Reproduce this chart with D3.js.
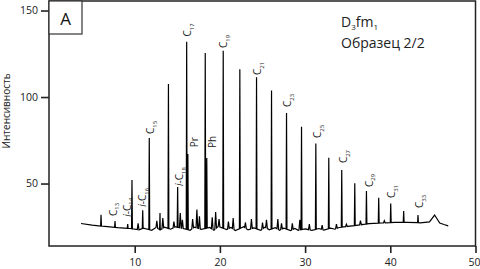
<!DOCTYPE html>
<html><head><meta charset="utf-8">
<script src="https://cdn.jsdelivr.net/npm/d3@7"></script>
<style>
html,body{margin:0;padding:0;background:#fff;}
svg{display:block;font-family:"Open Sans",sans-serif;}
</style></head>
<body>
<svg id="c" width="480" height="269"></svg>
<script>
// Main peaks: retention time (min) and intensity at apex
const peakT = [6.05, 7.69, 9.18, 9.68, 10.94, 11.71, 12.97, 13.96, 15.04, 16.10, 16.24, 18.28, 18.46, 20.39, 22.34, 24.30, 26.06, 27.82, 29.58, 31.26, 32.78, 34.30, 35.83, 37.20, 38.64, 40.05, 41.57, 43.25];
const peakV = [32.0, 28.3, 26.6, 52.0, 34.5, 76.3, 33.0, 107.5, 48.0, 132.0, 67.0, 125.4, 64.7, 126.8, 116.0, 111.5, 103.7, 90.7, 82.8, 73.2, 64.9, 57.8, 50.1, 45.7, 41.8, 38.5, 34.1, 31.8];
// Minor peaks (noise / unresolved components)
const minorT = [10.4, 12.6, 13.3, 14.6, 15.35, 15.6, 16.8, 17.3, 17.6, 19.1, 19.5, 19.9, 21.0, 21.56, 23.0, 23.7, 25.0, 25.47, 26.8, 27.23, 28.5, 29.38, 30.5, 32.0, 33.68, 34.85, 36.5, 39.3];
const minorV = [27.0, 28.5, 30.0, 28.0, 33.0, 29.0, 29.5, 35.0, 31.0, 30.5, 33.5, 29.5, 28.0, 30.0, 27.5, 29.5, 27.5, 29.0, 29.5, 27.0, 27.0, 29.0, 26.5, 26.0, 26.6, 26.5, 28.5, 28.5];
// Baseline (with its small irregularities)
const baseT = [3.7, 5.0, 6.5, 8.0, 9.5, 10.5, 11.0, 12.0, 12.5, 13.0, 13.5, 14.2, 14.8, 15.5, 16.5, 17.0, 17.8, 18.8, 19.3, 19.8, 20.8, 21.3, 21.8, 22.8, 23.3, 24.0, 24.8, 25.3, 25.8, 26.5, 27.0, 27.5, 28.3, 28.8, 29.2, 30.0, 30.8, 31.6, 32.2, 33.0, 33.5, 34.0, 35.0, 36.0, 37.5, 39.0, 40.5, 42.0, 43.5, 44.6, 45.2, 45.8, 46.3, 46.8];
const baseV = [26.9, 26.0, 25.2, 24.5, 24.0, 23.2, 24.2, 23.0, 24.6, 23.2, 24.8, 23.6, 25.0, 24.2, 23.0, 24.8, 23.5, 24.6, 23.0, 25.2, 23.4, 24.6, 22.8, 25.0, 23.2, 24.4, 22.9, 24.8, 23.3, 24.5, 23.0, 24.2, 22.8, 24.0, 23.0, 23.8, 22.9, 24.0, 23.1, 24.2, 23.6, 24.6, 25.2, 25.8, 26.8, 27.2, 27.5, 27.6, 27.3, 27.8, 31.8, 27.2, 26.3, 25.5];
// Peak labels (text, subscript, time, intensity at label start)
const labelMain = ["C", "i-C", "i-C", "C", "i-C", "C", "Pr", "Ph", "C", "C", "C", "C", "C", "C", "C", "C"];
const labelSub  = ["13", "14", "16", "15", "18", "17", "", "", "19", "21", "23", "25", "27", "29", "31", "33"];
const labelT = [7.46, 9.1, 10.97, 11.9, 15.31, 16.25, 17.0, 19.18, 20.47, 24.45, 27.97, 31.5, 34.54, 37.52, 40.16, 43.45];
const labelV = [31.2, 30.8, 36.6, 78.6, 48.6, 135.0, 71.0, 70.5, 128.3, 112.7, 94.2, 76.3, 61.8, 48.0, 41.6, 35.8];
const xTicks = [10, 20, 30, 40, 50];
const yTicks = [50, 100, 150];
const yTitle = "Интенсивность";
const panel = "A";
const info1 = ["D", "3", "fm", "1"];
const info2 = "Образец 2/2";

const svg = d3.select("#c");
const x = d3.scaleLinear().domain([0, 50]).range([49.5, 475.5]);
const y = d3.scaleLinear().domain([13.9, 155.5]).range([246, 1]);

function baseAt(t) {
  for (let i = 0; i < baseT.length - 1; i++) {
    if (t >= baseT[i] && t <= baseT[i + 1]) {
      const f = (t - baseT[i]) / (baseT[i + 1] - baseT[i]);
      return baseV[i] + f * (baseV[i + 1] - baseV[i]);
    }
  }
  return t < baseT[0] ? baseV[0] : baseV[baseV.length - 1];
}

let pts = baseT.map((t, i) => [t, baseV[i]]);
peakT.forEach((t, i) => {
  const w = 0.05;
  pts.push([t - w, baseAt(t - w)], [t, peakV[i]], [t + w, baseAt(t + w)]);
});
minorT.forEach((t, i) => {
  const w = 0.1;
  pts.push([t - w, baseAt(t - w)], [t, minorV[i]], [t + w, baseAt(t + w)]);
});
pts.sort((a, b) => a[0] - b[0]);

const line = d3.line().x(d => x(d[0])).y(d => y(d[1]));
svg.append("path").attr("d", line(pts)).attr("fill", "none")
  .attr("stroke", "#000").attr("stroke-width", 1.2).attr("stroke-linejoin", "miter");

// frame
svg.append("rect").attr("x", 49).attr("y", 1).attr("width", 426.5).attr("height", 245)
  .attr("fill", "none").attr("stroke", "#222").attr("stroke-width", 1.5);

// axes
const xAxis = svg.append("g").attr("transform", "translate(0,246)")
  .call(d3.axisBottom(x).tickValues(xTicks).tickSize(7).tickPadding(6));
const yAxis = svg.append("g").attr("transform", "translate(49,0)")
  .call(d3.axisLeft(y).tickValues(yTicks).tickSize(8).tickPadding(3));
[xAxis, yAxis].forEach(g => {
  g.select(".domain").remove();
  g.selectAll("line").attr("stroke", "#222").attr("stroke-width", 1.6);
  g.selectAll("text").attr("font-family", "Open Sans").attr("font-size", 10.5).attr("fill", "#222");
});
xAxis.selectAll(".tick").filter(d => d === 50).select("text")
  .attr("text-anchor", "end").attr("x", 480 - x(50));

svg.append("text").attr("transform", "translate(10,111) rotate(-90)")
  .attr("text-anchor", "middle").attr("font-size", 10).attr("fill", "#222").text(yTitle);

// panel label
svg.append("rect").attr("x", 49).attr("y", 1).attr("width", 33).attr("height", 33)
  .attr("fill", "#fff").attr("stroke", "#333").attr("stroke-width", 1.2);
svg.append("text").attr("x", 65.5).attr("y", 25).attr("text-anchor", "middle")
  .attr("font-size", 17).attr("fill", "#111").text(panel);

// info
const t1 = svg.append("text").attr("x", 341).attr("y", 27).attr("font-size", 14).attr("fill", "#222");
t1.append("tspan").text(info1[0]);
t1.append("tspan").attr("font-size", 8).attr("dy", 3).text(info1[1]);
t1.append("tspan").attr("dy", -3).text(info1[2]);
t1.append("tspan").attr("font-size", 8).attr("dy", 3).text(info1[3]);
svg.append("text").attr("x", 341).attr("y", 48).attr("font-size", 14).attr("fill", "#222").text(info2);

// peak labels
labelMain.forEach((m, i) => {
  const tx = svg.append("text")
    .attr("transform", `translate(${x(labelT[i])},${y(labelV[i])}) rotate(-90)`)
    .attr("dy", "0.35em").attr("font-size", 10).attr("fill", "#222");
  if (m.startsWith("i-")) {
    tx.append("tspan").attr("font-style", "italic").text("i");
    tx.append("tspan").text("-C");
  } else {
    tx.append("tspan").text(m);
  }
  if (labelSub[i]) tx.append("tspan").attr("font-size", 6).attr("dy", 2.5).text(labelSub[i]);
});
</script>
</body></html>
